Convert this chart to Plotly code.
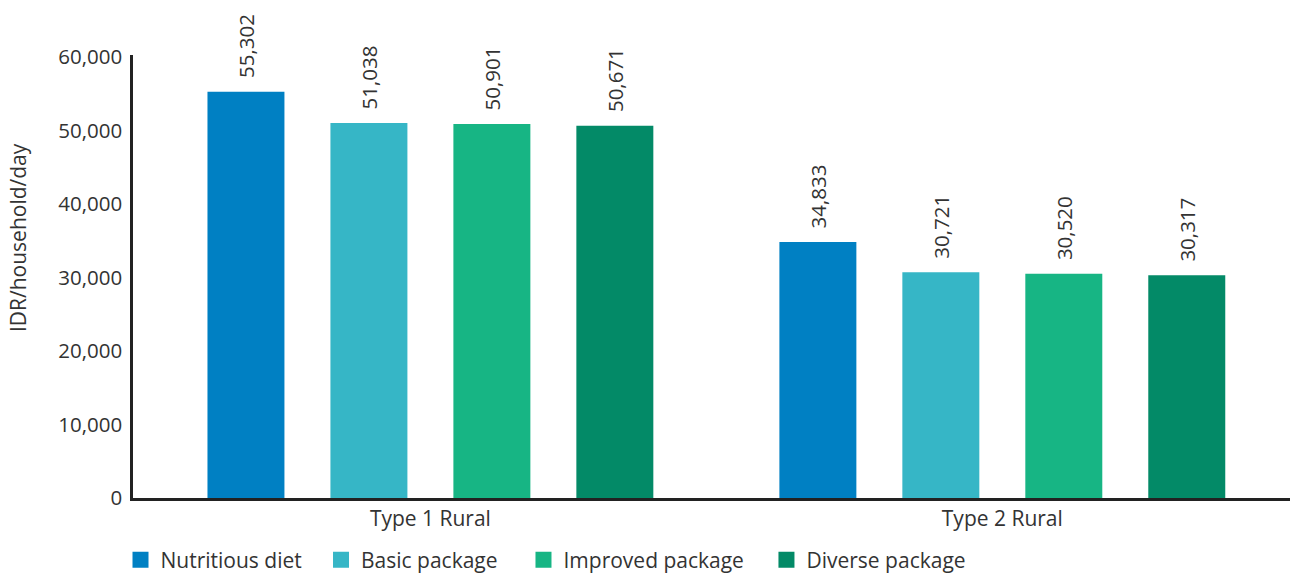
import plotly.graph_objects as go

categories = ["Type 1 Rural", "Type 2 Rural"]
series_names = ["Nutritious diet", "Basic package", "Improved package", "Diverse package"]
nutritious = [55302, 34833]
basic = [51038, 30721]
improved = [50901, 30520]
diverse = [50671, 30317]
tick_vals = [0, 10000, 20000, 30000, 40000, 50000, 60000]
tick_text = ["0", "10,000", "20,000", "30,000", "40,000", "50,000", "60,000"]
y_title = "IDR/household/day"

colors = ["#0080c3", "#36b6c6", "#17b584", "#038a67"]
legend_x = [-0.0108, 0.1625, 0.3375, 0.5475]
legend_ids = ["legend", "legend2", "legend3", "legend4"]
font_family = "Open Sans"
text_color = "#333333"

fig = go.Figure()
for name, vals, col, lid in zip(series_names, [nutritious, basic, improved, diverse], colors, legend_ids):
    fig.add_trace(go.Bar(
        x=categories, y=vals, name=name, marker=dict(color=col, line=dict(width=0)),
        text=["\u00a0\u00a0" + f"{v:,}" for v in vals], textposition="outside", textangle=-90,
        textfont=dict(family=font_family, size=20.5, color=text_color),
        cliponaxis=False, showlegend=False,
    ))
    fig.add_trace(go.Scatter(
        x=[None], y=[None], mode="markers", name=name, legend=lid,
        marker=dict(symbol="square", size=22, color=col), showlegend=True,
    ))

legend_common = dict(orientation="h", xanchor="left", y=-0.14, yanchor="middle",
                     font=dict(family=font_family, size=21, color=text_color),
                     itemsizing="trace", bgcolor="rgba(0,0,0,0)")
legends = {lid: dict(x=lx, **legend_common) for lid, lx in zip(legend_ids, legend_x)}

fig.update_layout(
    width=1294, height=573, autosize=False,
    margin=dict(l=133, r=4, t=55, b=75, autoexpand=False),
    plot_bgcolor="white", paper_bgcolor="white",
    barmode="group", bargap=0.14, bargroupgap=0.374,
    font=dict(family=font_family, size=20, color=text_color),
    **legends,
)
fig.add_annotation(text=y_title, xref="paper", yref="paper", x=-0.0994, y=0.589,
                   xanchor="center", yanchor="middle", textangle=-90, showarrow=False,
                   font=dict(family=font_family, size=21, color=text_color))
fig.update_xaxes(type="category", range=[-0.52, 1.503], showline=True, linecolor="#222222",
                 linewidth=2.5, ticks="", showgrid=False, zeroline=False,
                 tickfont=dict(family=font_family, size=21, color=text_color))
fig.update_yaxes(range=[0, 60300], tickvals=tick_vals, ticktext=tick_text, showline=True,
                 linecolor="#222222", linewidth=2.5, ticks="", showgrid=False, zeroline=False,
                 ticklabelstandoff=4,
                 tickfont=dict(family=font_family, size=20.5, color=text_color))

fig.write_html("out.html", config={"displayModeBar": False},
               post_script="document.body.style.margin='0';")
